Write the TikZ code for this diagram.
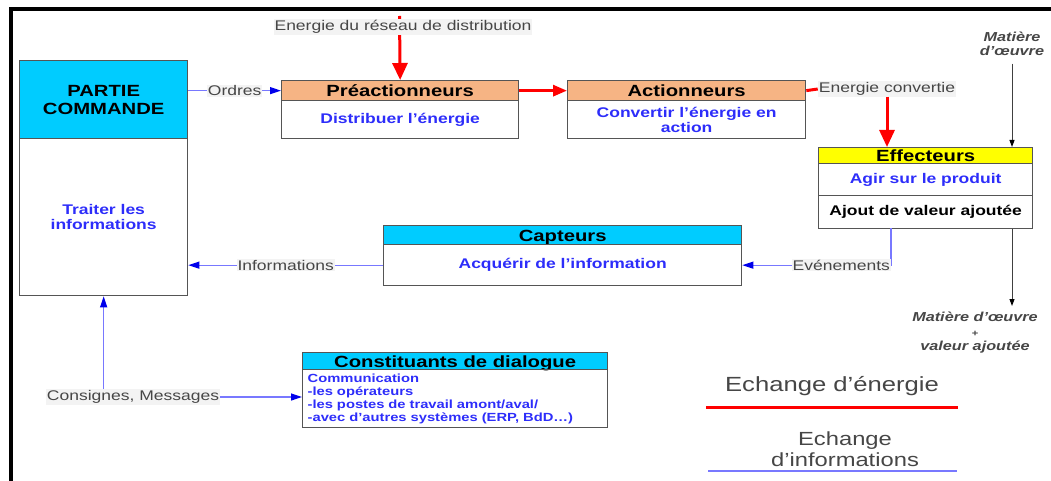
\documentclass[tikz,border=0pt]{standalone}
\usepackage{fontspec}
\setmainfont{Liberation Sans}[FakeStretch=1.25]
\usetikzlibrary{arrows.meta}
\definecolor{hcyan}{RGB}{0,204,255}
\definecolor{horange}{RGB}{246,180,132}
\definecolor{hyellow}{RGB}{255,255,0}
\definecolor{btext}{RGB}{45,45,250}
\definecolor{bline}{RGB}{120,120,255}
\definecolor{barrow}{RGB}{0,0,235}
\definecolor{lgray}{RGB}{70,70,70}
\definecolor{lbg}{RGB}{243,243,243}
\definecolor{boxline}{RGB}{85,85,85}
\definecolor{ered}{RGB}{255,0,0}
\newcommand\myfs[2]{\fontsize{#1}{#2}\selectfont}
\begin{document}
\begin{tikzpicture}[x=1pt,y=-1pt,
  frbox/.style={draw=boxline, line width=1.3pt, inner sep=0pt, anchor=north west},
  hdr/.style={frbox, font=\myfs{16.2}{18}\bfseries, text=black},
  capline/.style={text height=11.7pt, text depth=0pt},
  bodytxt/.style={frbox, font=\myfs{14}{15}\bfseries, text=btext, align=center},
  lbl/.style={font=\myfs{14}{15}, text=lgray, fill=lbg, inner sep=1pt},
  ital/.style={font=\myfs{13}{14.5}\bfseries\itshape, text=lgray, align=center},
  info/.style={draw=bline, line width=1.2pt, -{Triangle[length=11pt,width=7pt,color=barrow]}},
  energy/.style={draw=ered, line width=3pt, -{Triangle[length=17pt,width=15pt]}},
  energyh/.style={draw=ered, line width=3pt, -{Triangle[length=14pt,width=11pt]}},
  matter/.style={draw=black!75, line width=1pt, -{Triangle[length=7pt,width=5pt,color=black]}}]
\useasboundingbox (0,0) rectangle (1051,481);
\draw[line width=4.5pt] (11,481) -- (11,9) -- (1051,9);

% Partie commande
\node[hdr, fill=hcyan, align=center, minimum width=168pt, minimum height=78pt] (pcH) at (19,60) {PARTIE\\COMMANDE};
\node[bodytxt, minimum width=168pt, minimum height=157pt] (pcB) at (19,138) {Traiter les\\informations};

% Preactionneurs
\node[hdr, capline, fill=horange, minimum width=237pt, minimum height=20pt] (preH) at (281,80) {Préactionneurs};
\node[bodytxt, minimum width=237pt, minimum height=38pt] (preB) at (281,100) {Distribuer l’énergie};

% Actionneurs
\node[hdr, capline, fill=horange, minimum width=238pt, minimum height=20pt] (actH) at (567,80) {Actionneurs};
\node[bodytxt, minimum width=238pt, minimum height=38pt] (actB) at (567,100) {Convertir l’énergie en\\action};

% Effecteurs
\node[hdr, capline, fill=hyellow, minimum width=214pt, minimum height=16pt] (effH) at (818,147) {Effecteurs};
\node[bodytxt, minimum width=214pt, minimum height=32pt] (effA) at (818,163) {Agir sur le produit};
\node[bodytxt, text=black, minimum width=214pt, minimum height=33pt] (effV) at (818,195) {Ajout de valeur ajoutée};

% Capteurs
\node[hdr, capline, fill=hcyan, minimum width=358pt, minimum height=19pt] (capH) at (383,225) {Capteurs};
\node[bodytxt, minimum width=358pt, minimum height=41pt] (capB) at (383,244) {Acquérir de l’information};

% Constituants de dialogue
\node[hdr, capline, fill=hcyan, minimum width=305pt, minimum height=17pt] (dlgH) at (302,352) {Constituants de dialogue};
\node[bodytxt, font=\myfs{11.8}{13}\bfseries, align=left, text width=295pt, minimum width=305pt, minimum height=58pt] (dlgB) at (302,369)
  {Communication\\-les opérateurs\\-les postes de travail amont/aval/\\-avec d’autres systèmes (ERP, BdD…)};

% Energy flows
\coordinate (enrtop) at (399.5,16);
\draw[energy] (enrtop) -- (preH.north);
\node[lbl] (enr) at (403,27) {Energie du réseau de distribution};
\draw[energyh] (preH.east) -- (actH.west);
\node[lbl] (ec) at (887,89) {Energie convertie};
\draw[draw=ered, line width=3pt] (actH.east) -- (ec.west);
\draw[energy] (ec.south) -- (ec.south |- effH.north);

% Matter flows
\node[ital] (moIn) at (1012,44) {Matière\\d’œuvre};
\draw[matter] ([yshift=-4pt]moIn.south) -- (moIn.south |- effH.north);
\node[ital] (moOut) at (975,333) {Matière d’œuvre\\{\myfs{9}{14.5}+}\\valeur ajoutée};
\coordinate (moEnd) at (1012,306);
\draw[matter] (effV.south -| moEnd) -- (moEnd);

% Information flows
\draw[info] (preH.west -| pcH.east) -- node[lbl] (ord) {Ordres} (preH.west);
\coordinate (evtop) at (891,228);
\draw[info] (evtop) |- node[lbl, pos=0.667] (ev) {Evénements} (capB.east);
\draw[info] (capB.west) -- node[lbl] (inf) {Informations} (capB.west -| pcB.east);
\node[lbl] (cm) at (133,397) {Consignes, Messages};
\draw[info] (cm.north -| pcB.south) -- (pcB.south);
\draw[info] (cm.east) -- (cm.east -| dlgB.west);

% Legend
\node[font=\myfs{20.5}{22}, text=lgray] (lg1) at (832,386) {Echange d’énergie};
\draw[ered, line width=3pt] (706,407) -- (958,407);
\node[font=\myfs{19}{21}, text=lgray, align=center] (lg2) at (845,449) {Echange\\d’informations};
\draw[bline, line width=2pt] (708,471) -- (957,471);
\end{tikzpicture}
\end{document}
